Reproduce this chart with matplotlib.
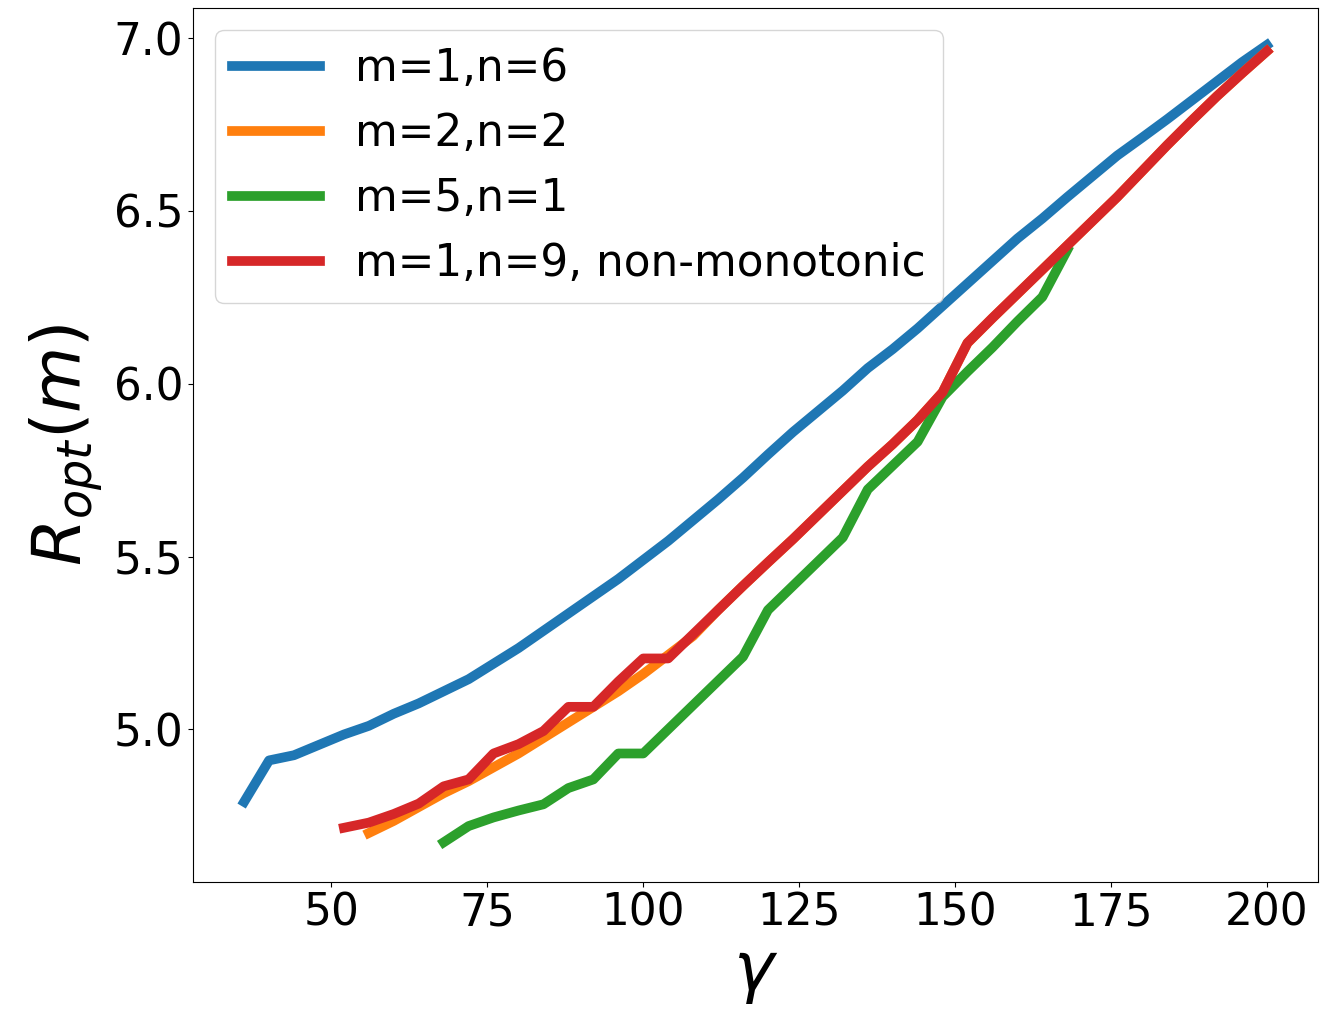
import matplotlib
matplotlib.use("Agg")
import matplotlib.pyplot as plt

# gamma grid (step 4) and R_opt values
gamma_16 = list(range(36, 201, 4))
r_16 = [4.79, 4.91, 4.925, 4.955, 4.985, 5.01, 5.045, 5.075, 5.11, 5.145,
        5.19, 5.235, 5.285, 5.335, 5.385, 5.435, 5.49, 5.545, 5.605, 5.665,
        5.728, 5.795, 5.86, 5.92, 5.98, 6.045, 6.10, 6.16, 6.225, 6.29,
        6.355, 6.42, 6.478, 6.54, 6.60, 6.66, 6.712, 6.765, 6.82, 6.875,
        6.93, 6.98]

gamma_22 = list(range(56, 201, 4))
r_22 = [4.70, 4.735, 4.775, 4.815, 4.85, 4.89, 4.93, 4.975, 5.02, 5.065,
        5.11, 5.16, 5.215, 5.27, 5.345, 5.415, 5.483, 5.55, 5.62, 5.69,
        5.76, 5.825, 5.895, 5.975, 6.118, 6.19, 6.26, 6.33, 6.40, 6.47,
        6.54, 6.615, 6.69, 6.762, 6.832, 6.898, 6.962]

gamma_51 = list(range(68, 169, 4))
r_51 = [4.673, 4.72, 4.745, 4.765, 4.783, 4.83, 4.855, 4.93, 4.93, 5.0,
        5.07, 5.14, 5.21, 5.345, 5.415, 5.485, 5.555, 5.694, 5.763, 5.832,
        5.962, 6.035, 6.105, 6.18, 6.251, 6.387]

gamma_19 = list(range(52, 201, 4))
r_19 = [4.715, 4.73, 4.755, 4.785, 4.835, 4.855, 4.93, 4.957, 4.995, 5.065,
        5.065, 5.138, 5.205, 5.205, 5.275, 5.345, 5.415, 5.483, 5.55, 5.62,
        5.69, 5.76, 5.825, 5.895, 5.975, 6.118, 6.19, 6.26, 6.33, 6.40,
        6.47, 6.54, 6.615, 6.69, 6.762, 6.832, 6.898, 6.962]

labels = ["m=1,n=6", "m=2,n=2", "m=5,n=1", "m=1,n=9, non-monotonic"]

fig = plt.figure(figsize=(13.21, 10.19), dpi=100)
ax = fig.add_axes([0.1461, 0.1344, 0.8516, 0.8577])

lw = 7
ax.plot(gamma_16, r_16, lw=lw, label=labels[0])
ax.plot(gamma_22, r_22, lw=lw, label=labels[1])
ax.plot(gamma_51, r_51, lw=lw, label=labels[2])
ax.plot(gamma_19, r_19, lw=lw, label=labels[3])

ax.set_xlim(27.8, 208.2)
ax.set_ylim(4.558, 7.087)
ax.set_xticks([50, 75, 100, 125, 150, 175, 200])
ax.set_yticks([5.0, 5.5, 6.0, 6.5, 7.0])
ax.tick_params(labelsize=31.5)

ax.set_xlabel(r"$\gamma$", fontsize=49)
ax.set_ylabel(r"$R_{opt}(m)$", fontsize=49, labelpad=6)
ax.legend(loc="upper left", fontsize=31.5)

fig.savefig("out.png", dpi=100)
